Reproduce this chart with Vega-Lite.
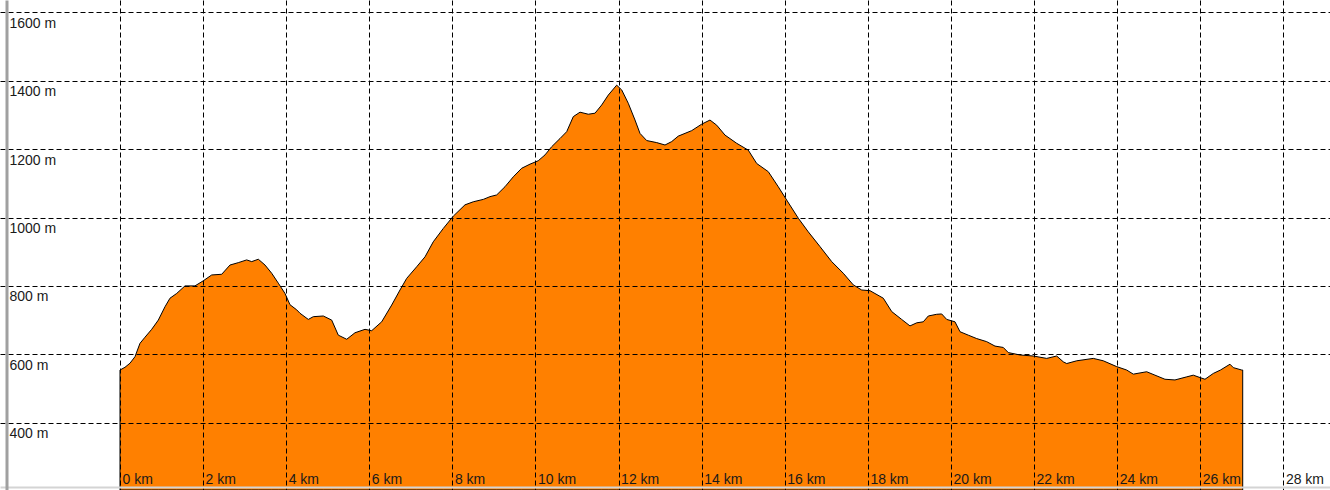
{
  "$schema": "https://vega.github.io/schema/vega-lite/v6.json",
  "width": 1330,
  "height": 490,
  "autosize": {"type": "none"},
  "padding": 0,
  "background": "white",
  "config": {"view": {"stroke": null}},
  "data": {"values": [
    {"km": 0.000, "ele": 554}, {"km": 0.120, "ele": 562}, {"km": 0.241, "ele": 574}, {"km": 0.361, "ele": 593},
    {"km": 0.481, "ele": 632}, {"km": 0.602, "ele": 650}, {"km": 0.763, "ele": 673}, {"km": 0.922, "ele": 700},
    {"km": 1.083, "ele": 739}, {"km": 1.203, "ele": 764}, {"km": 1.365, "ele": 778}, {"km": 1.564, "ele": 800},
    {"km": 1.805, "ele": 800}, {"km": 2.005, "ele": 815}, {"km": 2.207, "ele": 832}, {"km": 2.448, "ele": 834},
    {"km": 2.647, "ele": 861}, {"km": 2.847, "ele": 868}, {"km": 3.049, "ele": 876}, {"km": 3.170, "ele": 871},
    {"km": 3.329, "ele": 878}, {"km": 3.490, "ele": 861}, {"km": 3.651, "ele": 837}, {"km": 3.810, "ele": 808},
    {"km": 3.971, "ele": 778}, {"km": 4.091, "ele": 745}, {"km": 4.253, "ele": 730}, {"km": 4.332, "ele": 720},
    {"km": 4.532, "ele": 702}, {"km": 4.652, "ele": 710}, {"km": 4.893, "ele": 712}, {"km": 5.095, "ele": 700},
    {"km": 5.254, "ele": 656}, {"km": 5.456, "ele": 644}, {"km": 5.656, "ele": 663}, {"km": 5.897, "ele": 673},
    {"km": 6.058, "ele": 669}, {"km": 6.298, "ele": 695}, {"km": 6.539, "ele": 744}, {"km": 6.739, "ele": 788},
    {"km": 6.900, "ele": 822}, {"km": 7.141, "ele": 856}, {"km": 7.341, "ele": 885}, {"km": 7.540, "ele": 929},
    {"km": 7.781, "ele": 968}, {"km": 8.022, "ele": 1004}, {"km": 8.303, "ele": 1037}, {"km": 8.503, "ele": 1046},
    {"km": 8.744, "ele": 1053}, {"km": 8.905, "ele": 1061}, {"km": 9.066, "ele": 1066}, {"km": 9.266, "ele": 1090},
    {"km": 9.466, "ele": 1119}, {"km": 9.668, "ele": 1144}, {"km": 9.868, "ele": 1156}, {"km": 10.067, "ele": 1166},
    {"km": 10.229, "ele": 1183}, {"km": 10.390, "ele": 1207}, {"km": 10.590, "ele": 1231}, {"km": 10.751, "ele": 1251},
    {"km": 10.910, "ele": 1295}, {"km": 11.071, "ele": 1308}, {"km": 11.271, "ele": 1302}, {"km": 11.432, "ele": 1305},
    {"km": 11.593, "ele": 1329}, {"km": 11.752, "ele": 1358}, {"km": 11.954, "ele": 1387}, {"km": 12.075, "ele": 1373},
    {"km": 12.233, "ele": 1334}, {"km": 12.395, "ele": 1285}, {"km": 12.515, "ele": 1246}, {"km": 12.676, "ele": 1225},
    {"km": 12.917, "ele": 1219}, {"km": 13.117, "ele": 1212}, {"km": 13.278, "ele": 1222}, {"km": 13.437, "ele": 1238},
    {"km": 13.759, "ele": 1254}, {"km": 14.000, "ele": 1273}, {"km": 14.200, "ele": 1285}, {"km": 14.361, "ele": 1270},
    {"km": 14.561, "ele": 1241}, {"km": 14.842, "ele": 1217}, {"km": 15.121, "ele": 1197}, {"km": 15.324, "ele": 1158},
    {"km": 15.603, "ele": 1134}, {"km": 15.843, "ele": 1090}, {"km": 16.046, "ele": 1051}, {"km": 16.325, "ele": 998},
    {"km": 16.566, "ele": 958}, {"km": 16.847, "ele": 915}, {"km": 17.129, "ele": 871}, {"km": 17.408, "ele": 837},
    {"km": 17.649, "ele": 803}, {"km": 17.851, "ele": 788}, {"km": 18.051, "ele": 786}, {"km": 18.371, "ele": 764},
    {"km": 18.573, "ele": 725}, {"km": 18.813, "ele": 702}, {"km": 19.013, "ele": 683}, {"km": 19.175, "ele": 692},
    {"km": 19.333, "ele": 695}, {"km": 19.454, "ele": 712}, {"km": 19.656, "ele": 717}, {"km": 19.776, "ele": 718},
    {"km": 19.897, "ele": 702}, {"km": 20.096, "ele": 695}, {"km": 20.217, "ele": 666}, {"km": 20.416, "ele": 656},
    {"km": 20.619, "ele": 646}, {"km": 20.859, "ele": 637}, {"km": 21.059, "ele": 624}, {"km": 21.259, "ele": 620},
    {"km": 21.379, "ele": 605}, {"km": 21.661, "ele": 598}, {"km": 21.981, "ele": 595}, {"km": 22.303, "ele": 588},
    {"km": 22.544, "ele": 595}, {"km": 22.703, "ele": 578}, {"km": 22.785, "ele": 573}, {"km": 23.025, "ele": 581},
    {"km": 23.425, "ele": 588}, {"km": 23.666, "ele": 581}, {"km": 23.988, "ele": 564}, {"km": 24.228, "ele": 554},
    {"km": 24.388, "ele": 542}, {"km": 24.710, "ele": 549}, {"km": 24.910, "ele": 539}, {"km": 25.150, "ele": 527},
    {"km": 25.391, "ele": 525}, {"km": 25.673, "ele": 534}, {"km": 25.832, "ele": 539}, {"km": 25.993, "ele": 532},
    {"km": 26.113, "ele": 527}, {"km": 26.313, "ele": 544}, {"km": 26.486, "ele": 554}, {"km": 26.715, "ele": 571},
    {"km": 26.795, "ele": 561}, {"km": 26.997, "ele": 554}, {"km": 27.021, "ele": 554}
  ]},
  "mark": {"type": "area", "color": "#FF8000", "fillOpacity": 1, "stroke": "black", "strokeWidth": 1, "clip": true},
  "encoding": {
    "x": {
      "field": "km", "type": "quantitative",
      "scale": {"domain": [-2.888, 29.122], "nice": false, "zero": false},
      "axis": {
        "title": null, "values": [0, 2, 4, 6, 8, 10, 12, 14, 16, 18, 20, 22, 24, 26, 28],
        "labelExpr": "datum.value + ' km'",
        "ticks": false, "domain": true, "domainColor": "#d4d4d4", "domainWidth": 2, "offset": -3,
        "grid": true, "gridColor": "black", "gridDash": [5, 3], "gridWidth": 1, "gridOpacity": 1,
        "labelAlign": "left", "labelBaseline": "alphabetic", "labelPadding": -4, "labelOffset": 2,
        "labelFont": "Liberation Sans", "labelFontSize": 14, "labelColor": "#1a1a1a",
        "labelOverlap": false, "labelFlush": false, "zindex": 1
      }
    },
    "y": {
      "field": "ele", "type": "quantitative",
      "scale": {"domain": [203.2, 1636], "nice": false, "zero": false},
      "axis": {
        "title": null, "values": [400, 600, 800, 1000, 1200, 1400, 1600],
        "labelExpr": "datum.value + ' m'",
        "ticks": false, "domain": true, "domainColor": "#a0a0a0", "domainWidth": 3, "offset": -6.5,
        "grid": true, "gridColor": "black", "gridDash": [5, 3], "gridWidth": 1, "gridOpacity": 1,
        "labelAlign": "left", "labelBaseline": "alphabetic", "labelPadding": -2.5, "labelOffset": 15,
        "labelFont": "Liberation Sans", "labelFontSize": 14, "labelColor": "#1a1a1a",
        "labelOverlap": false, "labelFlush": false, "zindex": 1
      }
    },
    "y2": {"datum": 203.2}
  }
}
